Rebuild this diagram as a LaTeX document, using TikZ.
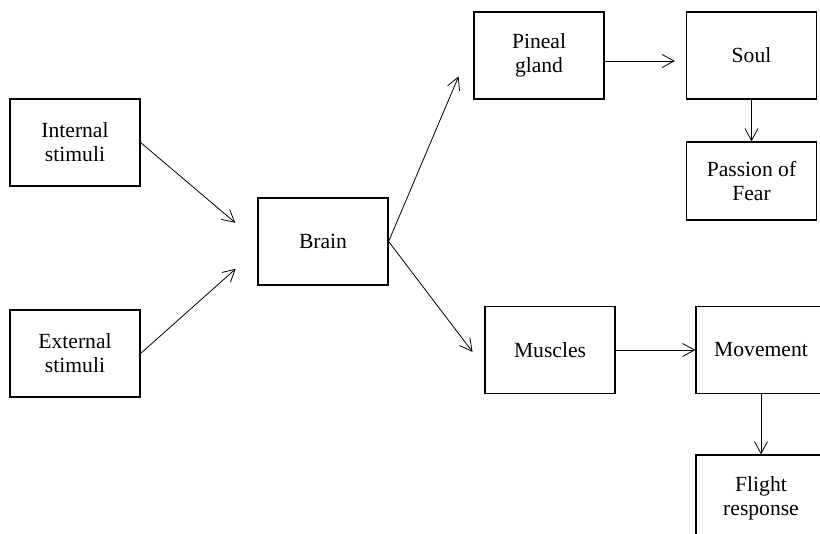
\documentclass[tikz,border=0pt]{standalone}
\usepackage{fontspec}
\setmainfont{Liberation Serif}
\usetikzlibrary{arrows.meta}

\begin{document}
\begin{tikzpicture}[x=0.5pt, y=-0.5pt, >={Straight Barb[length=6pt,width=6.5pt]},
    box/.style={draw, line width=0.6pt, minimum width=65pt, minimum height=43.5pt,
                inner sep=0pt, align=center, font=\fontsize{10.8}{12}\selectfont},
    link/.style={->, line width=0.4pt}]
    \useasboundingbox (0, 0) rectangle (820, 534);
    \clip (0, 0) rectangle (820, 534);
    \node[box] (internal) at (75, 142.5) {Internal\\stimuli};
    \node[box] (external) at (75, 353.5) {External\\stimuli};
    \node[box] (brain) at (323, 241.5) {Brain};
    \node[box] (pineal) at (539, 55.5) {Pineal\\gland};
    \node[box] (soul) at (751.5, 55.5) {Soul};
    \node[box, minimum height=39pt] (passion) at (751.5, 181) {Passion of\\Fear};
    \node[box] (muscles) at (550, 350) {Muscles};
    \node[box] (movement) at (761, 350) {Movement};
    \node[box] (flight) at (761, 498.5) {Flight\\response};
    \draw[link, shorten >=14.5pt] (internal.east) -- (brain.west);
    \draw[link, shorten >=14.5pt] (external.east) -- ([yshift=-4pt]brain.west);
    \draw[link, shorten >=19pt] (brain.east) -- ([yshift=7pt]pineal.west);
    \draw[link, shorten >=9.8pt] (brain.east) -- ([yshift=-8.75pt]muscles.west);
    \draw[link, shorten >=5.5pt] ([yshift=-2.75pt]pineal.east) -- ([yshift=-2.75pt]soul.west);
    \draw[link] (soul) -- (passion);
    \draw[link] (muscles) -- (movement);
    \draw[link] (movement) -- (flight);
\end{tikzpicture}
\end{document}
